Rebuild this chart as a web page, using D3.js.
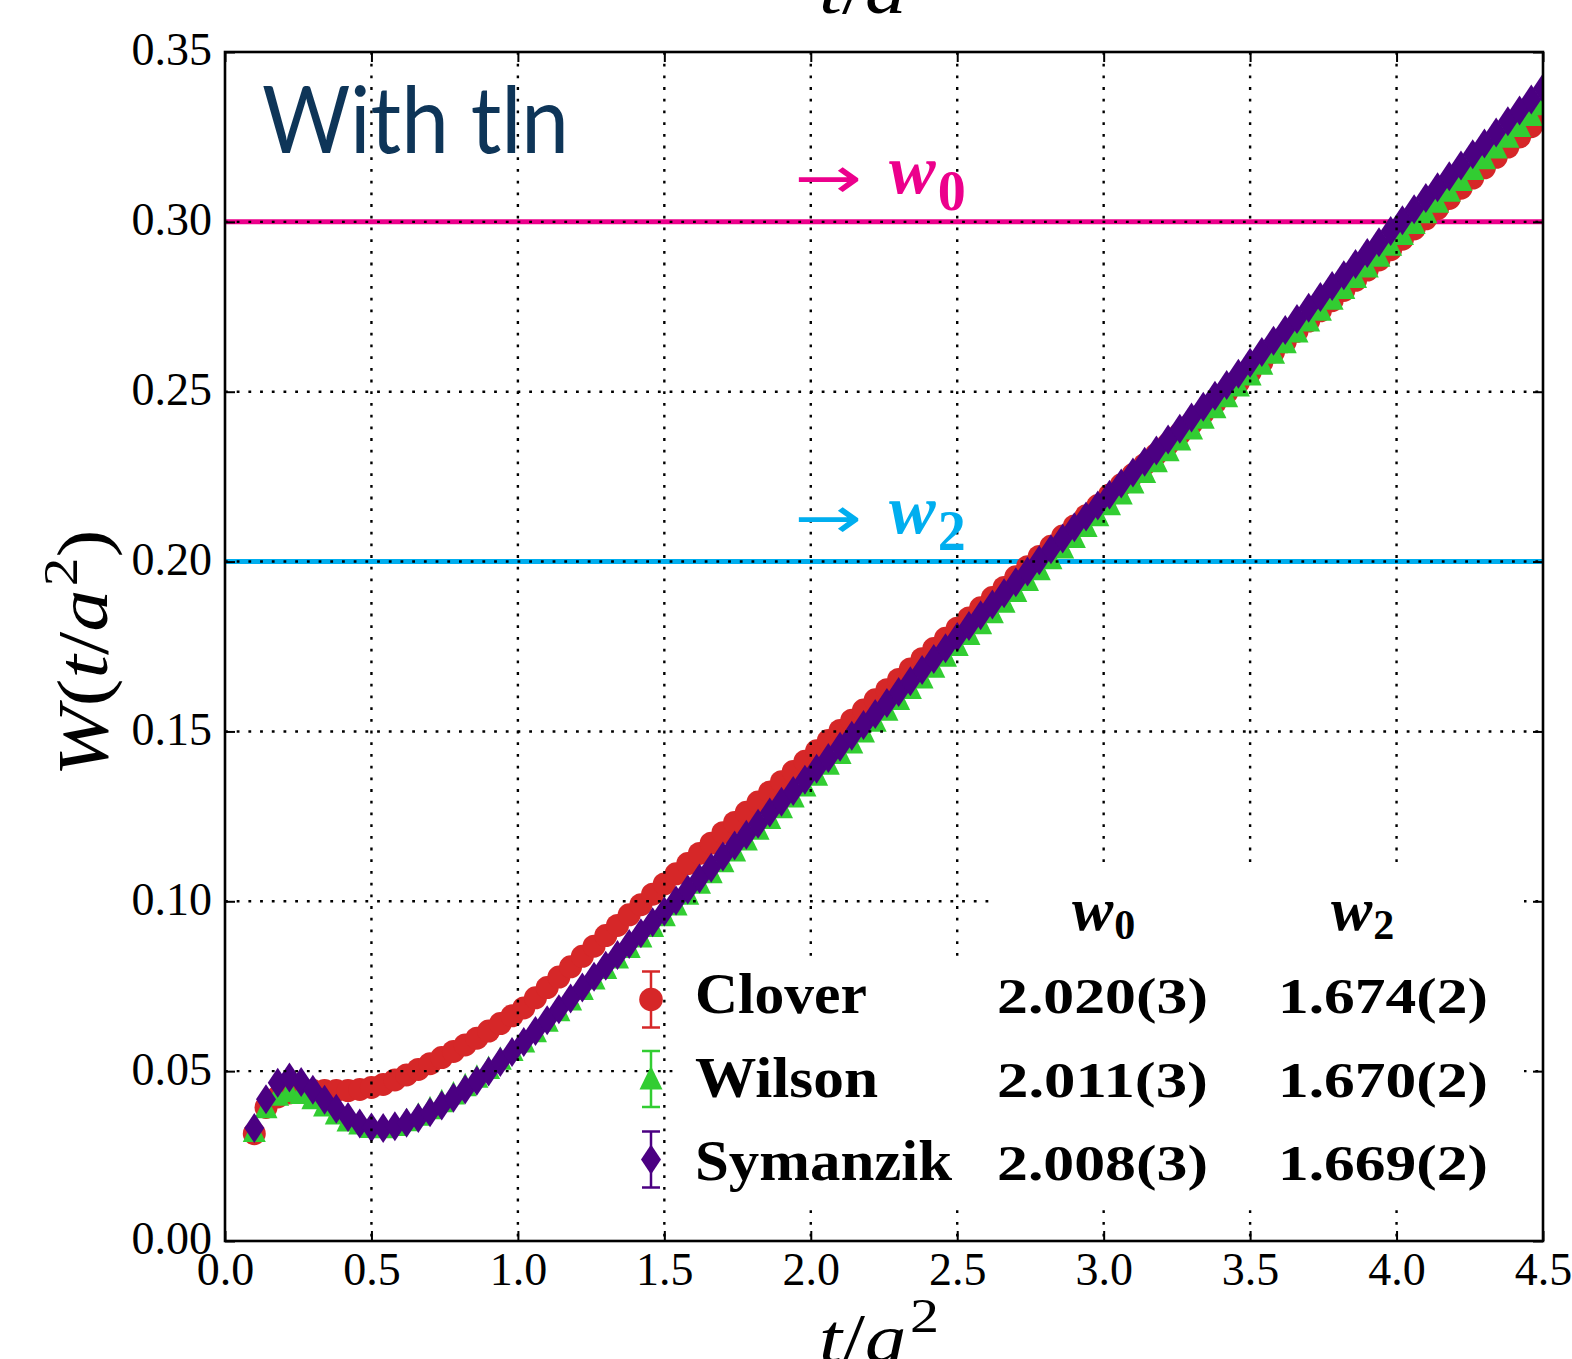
<!DOCTYPE html>
<html>
<head>
<meta charset="utf-8">
<script src="https://cdn.jsdelivr.net/npm/d3@7"></script>
<style>
  html, body { margin: 0; padding: 0; background: #fff; }
  svg { display: block; }
</style>
</head>
<body>
<div id="chart"></div>
<script>
// flow time t/a^2 (every 4th flow step)
const tFlow = [
  0.10, 0.14, 0.18, 0.22, 0.26, 0.30, 0.34, 0.38, 0.42, 0.46, 0.50, 0.54, 0.58, 0.62, 0.66, 0.70, 0.74, 0.78, 0.82, 0.86, 0.90, 0.94, 0.98,
  1.02, 1.06, 1.10, 1.14, 1.18, 1.22, 1.26, 1.30, 1.34, 1.38, 1.42, 1.46,
  1.50, 1.54, 1.58, 1.62, 1.66, 1.70, 1.74, 1.78, 1.82, 1.86, 1.90, 1.94, 1.98, 2.02, 2.06, 2.10, 2.14, 2.18, 2.22, 2.26,
  2.30, 2.34, 2.38, 2.42, 2.46, 2.50, 2.54, 2.58, 2.62, 2.66, 2.70, 2.74, 2.78, 2.82, 2.86, 2.90, 2.94, 2.98, 3.02, 3.06,
  3.10, 3.14, 3.18, 3.22, 3.26, 3.30, 3.34, 3.38, 3.42, 3.46, 3.50, 3.54, 3.58, 3.62, 3.66, 3.70, 3.74, 3.78, 3.82, 3.86,
  3.90, 3.94, 3.98, 4.02, 4.06, 4.10, 4.14, 4.18, 4.22, 4.26, 4.30, 4.34, 4.38, 4.42, 4.46, 4.50
];

const clover = [
  0.0316, 0.0393, 0.0424, 0.0436, 0.0441, 0.0443, 0.0443, 0.0443, 0.0443, 0.0446, 0.0452, 0.0461, 0.0474, 0.0489, 0.0505, 0.0522, 0.0540, 0.0558, 0.0577, 0.0597, 0.0618, 0.0640, 0.0663,
  0.0686, 0.0716, 0.0746, 0.0777, 0.0807, 0.0838, 0.0868, 0.0899, 0.0929, 0.0960, 0.0990, 0.1021,
  0.1051, 0.1081, 0.1111, 0.1141, 0.1171, 0.1202, 0.1232, 0.1262, 0.1292, 0.1322, 0.1352, 0.1382, 0.1412, 0.1443, 0.1473, 0.1503, 0.1533, 0.1563, 0.1593, 0.1623,
  0.1653, 0.1684, 0.1714, 0.1744, 0.1774, 0.1804, 0.1834, 0.1864, 0.1894, 0.1924, 0.1955, 0.1985, 0.2015, 0.2045, 0.2075, 0.2105, 0.2135, 0.2165, 0.2196, 0.2226,
  0.2256, 0.2286, 0.2316, 0.2346, 0.2376, 0.2406, 0.2437, 0.2467, 0.2497, 0.2527, 0.2557, 0.2587, 0.2617, 0.2647, 0.2678, 0.2708, 0.2738, 0.2768, 0.2798, 0.2828,
  0.2858, 0.2888, 0.2918, 0.2949, 0.2979, 0.3009, 0.3039, 0.3069, 0.3099, 0.3129, 0.3159, 0.3190, 0.3220, 0.3250, 0.3280, 0.3310
];

const wilson = [
  0.0325, 0.0395, 0.0432, 0.0443, 0.0437, 0.0422, 0.0400, 0.0377, 0.0356, 0.0347, 0.0337, 0.0336, 0.0343, 0.0357, 0.0373, 0.0392, 0.0413, 0.0436, 0.0460, 0.0485, 0.0511, 0.0538, 0.0564,
  0.0589, 0.0619, 0.0650, 0.0681, 0.0712, 0.0743, 0.0774, 0.0805, 0.0836, 0.0867, 0.0898, 0.0929,
  0.0960, 0.0992, 0.1024, 0.1056, 0.1087, 0.1119, 0.1151, 0.1183, 0.1215, 0.1247, 0.1278, 0.1310, 0.1342, 0.1374, 0.1406, 0.1438, 0.1469, 0.1501, 0.1533, 0.1565,
  0.1597, 0.1629, 0.1660, 0.1692, 0.1724, 0.1756, 0.1788, 0.1820, 0.1852, 0.1883, 0.1915, 0.1947, 0.1979, 0.2011, 0.2043, 0.2074, 0.2106, 0.2138, 0.2170, 0.2202,
  0.2234, 0.2265, 0.2297, 0.2329, 0.2361, 0.2393, 0.2425, 0.2456, 0.2488, 0.2520, 0.2552, 0.2584, 0.2616, 0.2647, 0.2679, 0.2711, 0.2743, 0.2775, 0.2807, 0.2839,
  0.2870, 0.2902, 0.2934, 0.2966, 0.2998, 0.3030, 0.3061, 0.3093, 0.3125, 0.3157, 0.3189, 0.3220, 0.3252, 0.3284, 0.3316, 0.3348
];

const symanzik = [
  0.0333, 0.0417, 0.0466, 0.0481, 0.0468, 0.0445, 0.0416, 0.0389, 0.0365, 0.0346, 0.0334, 0.0333, 0.0338, 0.0348, 0.0362, 0.0379, 0.0399, 0.0422, 0.0446, 0.0472, 0.0499, 0.0527, 0.0556,
  0.0586, 0.0618, 0.0650, 0.0682, 0.0714, 0.0746, 0.0778, 0.0810, 0.0842, 0.0874, 0.0906, 0.0938,
  0.0970, 0.1002, 0.1035, 0.1067, 0.1099, 0.1132, 0.1164, 0.1196, 0.1228, 0.1261, 0.1293, 0.1325, 0.1358, 0.1390, 0.1422, 0.1455, 0.1487, 0.1519, 0.1551, 0.1584,
  0.1616, 0.1648, 0.1681, 0.1713, 0.1745, 0.1778, 0.1810, 0.1842, 0.1874, 0.1907, 0.1939, 0.1971, 0.2004, 0.2036, 0.2068, 0.2101, 0.2133, 0.2165, 0.2197, 0.2230,
  0.2262, 0.2294, 0.2327, 0.2359, 0.2391, 0.2424, 0.2456, 0.2488, 0.2520, 0.2553, 0.2585, 0.2617, 0.2650, 0.2682, 0.2714, 0.2747, 0.2779, 0.2811, 0.2843, 0.2876,
  0.2908, 0.2940, 0.2973, 0.3005, 0.3037, 0.3070, 0.3102, 0.3134, 0.3166, 0.3199, 0.3231, 0.3263, 0.3296, 0.3328, 0.3360, 0.3393
];

const xTicks = [0, 0.5, 1.0, 1.5, 2.0, 2.5, 3.0, 3.5, 4.0, 4.5];
const yTicks = [0, 0.05, 0.10, 0.15, 0.20, 0.25, 0.30, 0.35];

const refValues = [0.30, 0.20];       // W(t) = 0.3 -> w0, W(t) = 0.2 -> w2
const refSubs = ["0", "2"];

const legendNames = ["Clover", "Wilson", "Symanzik"];
const w0Vals = ["2.020(3)", "2.011(3)", "2.008(3)"];
const w2Vals = ["1.674(2)", "1.670(2)", "1.669(2)"];

const colors = ["#d62728", "#32cd32", "#4b0082"];
const refColors = ["#ec008c", "#00aeef"];
const serif = "'Liberation Serif', 'Times New Roman', serif";

const W = 1572, H = 1359;
const margin = { top: 52, right: 29, bottom: 118, left: 225 };
const width = W - margin.left - margin.right;
const height = H - margin.top - margin.bottom;

const svg = d3.select("#chart").append("svg").attr("width", W).attr("height", H);
const g = svg.append("g").attr("transform", `translate(${margin.left},${margin.top})`);

const x = d3.scaleLinear().domain([0, 4.5]).range([0, width]);
const y = d3.scaleLinear().domain([0, 0.35]).range([height, 0]);

svg.append("defs").append("clipPath").attr("id", "plotClip")
  .append("rect").attr("width", width).attr("height", height);
const plot = g.append("g").attr("clip-path", "url(#plotClip)");

// marker shapes (matplotlib o, ^, d)
const triPath = (cx, cy) => `M${cx},${cy - 12}L${cx + 11.5},${cy + 11.5}L${cx - 11.5},${cy + 11.5}Z`;
const diaPath = (cx, cy) => `M${cx},${cy - 15}L${cx + 10},${cy}L${cx},${cy + 15}L${cx - 10},${cy}Z`;

// w0 / w2 reference lines
plot.selectAll("line.ref").data(refValues).enter().append("line")
  .attr("x1", 0).attr("x2", width)
  .attr("y1", d => y(d)).attr("y2", d => y(d))
  .attr("stroke", (d, i) => refColors[i]).attr("stroke-width", 5);

const pts = vals => tFlow.map((t, i) => ({ t, v: vals[i] }));

plot.append("g").selectAll("circle").data(pts(clover)).enter().append("circle")
  .attr("cx", d => x(d.t)).attr("cy", d => y(d.v)).attr("r", 11.5)
  .attr("fill", colors[0]);

plot.append("g").selectAll("path").data(pts(wilson)).enter().append("path")
  .attr("d", d => triPath(x(d.t), y(d.v)))
  .attr("fill", colors[1]);

plot.append("g").selectAll("path").data(pts(symanzik)).enter().append("path")
  .attr("d", d => diaPath(x(d.t), y(d.v)))
  .attr("fill", colors[2]);

// dotted grid, drawn over the data like classic matplotlib
const grid = g.append("g").attr("stroke", "#000").attr("stroke-width", 2.4)
  .attr("stroke-dasharray", "2.8 8.9");
grid.selectAll("line.v").data(xTicks.slice(1, -1)).enter().append("line")
  .attr("x1", d => x(d)).attr("x2", d => x(d)).attr("y1", 0).attr("y2", height);
grid.selectAll("line.h").data(yTicks.slice(1, -1)).enter().append("line")
  .attr("x1", 0).attr("x2", width).attr("y1", d => y(d)).attr("y2", d => y(d));

// axes with inward ticks on all four sides
function styleAxis(sel) {
  sel.select(".domain").remove();
  sel.attr("font-size", 46).attr("font-family", serif);
  sel.selectAll(".tick line").attr("stroke", "#000").attr("stroke-width", 2);
  sel.selectAll(".tick text").attr("fill", "#000");
}
g.append("g").attr("transform", `translate(0,${height})`)
  .call(d3.axisBottom(x).tickValues(xTicks).tickFormat(d3.format(".1f"))
    .tickSize(-10).tickSizeOuter(0).tickPadding(11))
  .call(styleAxis);
g.append("g")
  .call(d3.axisLeft(y).tickValues(yTicks).tickFormat(d3.format(".2f"))
    .tickSize(-10).tickSizeOuter(0).tickPadding(13))
  .call(styleAxis)
  .selectAll(".tick text").attr("dy", "0.28em");
g.append("g")
  .call(d3.axisTop(x).tickValues(xTicks).tickFormat("").tickSize(-10).tickSizeOuter(0))
  .call(styleAxis);
g.append("g").attr("transform", `translate(${width},0)`)
  .call(d3.axisRight(y).tickValues(yTicks).tickFormat("").tickSize(-10).tickSizeOuter(0))
  .call(styleAxis);

g.append("rect").attr("width", width).attr("height", height)
  .attr("fill", "none").attr("stroke", "#000").attr("stroke-width", 2.6);

// annotations "-> w0", "-> w2"
refValues.forEach((v, i) => {
  const yy = margin.top + y(v);
  svg.append("text")
    .attr("x", 794).attr("y", yy - 24)
    .attr("font-family", "'DejaVu Sans', sans-serif").attr("font-size", 58)
    .attr("textLength", 68).attr("lengthAdjust", "spacingAndGlyphs")
    .attr("fill", refColors[i]).text("\u2192");
  const t = svg.append("text").attr("x", 889).attr("y", yy - 29)
    .attr("font-family", serif).attr("font-weight", "bold").attr("fill", refColors[i]);
  t.append("tspan").attr("font-style", "italic").attr("font-size", 70).text("w");
  t.append("tspan").attr("font-size", 56).attr("dy", 17).attr("dx", 2).text(refSubs[i]);
});

// legend with results table
const rowTop = [957, 1042, 1125];
const rowH = [81, 80, 78];
const rowBase = [1013, 1097, 1180];
const rowMid = [999.5, 1079, 1159.5];
const legX = 651;

svg.append("rect").attr("x", 993).attr("y", 863).attr("width", 531).attr("height", 94).attr("fill", "#fff");
legendNames.forEach((name, i) => {
  svg.append("rect").attr("x", 677).attr("y", rowTop[i]).attr("width", 847).attr("height", rowH[i]).attr("fill", "#fff");
});

const headCols = [1072, 1331];
refSubs.forEach((s, j) => {
  const t = svg.append("text").attr("x", headCols[j]).attr("y", 930)
    .attr("font-family", serif).attr("font-weight", "bold").attr("fill", "#000");
  t.append("tspan").attr("font-style", "italic").attr("font-size", 62).text("w");
  t.append("tspan").attr("font-size", 42).attr("dy", 9).attr("dx", 1).text(s);
});

const nameLens = [172, 183, 257];
legendNames.forEach((name, i) => {
  const c = colors[i], m = rowMid[i];
  const leg = svg.append("g");
  leg.append("line").attr("x1", legX).attr("x2", legX).attr("y1", m - 28).attr("y2", m + 28)
    .attr("stroke", c).attr("stroke-width", 2.5);
  [m - 28, m + 28].forEach(cy => leg.append("line")
    .attr("x1", legX - 9).attr("x2", legX + 9).attr("y1", cy).attr("y2", cy)
    .attr("stroke", c).attr("stroke-width", 2.5));
  if (i === 0) leg.append("circle").attr("cx", legX).attr("cy", m).attr("r", 11.8).attr("fill", c);
  if (i === 1) leg.append("path").attr("d", triPath(legX, m - 1)).attr("fill", c);
  if (i === 2) leg.append("path").attr("d", diaPath(legX, m)).attr("fill", c);

  svg.append("text").attr("x", 695).attr("y", rowBase[i])
    .attr("font-family", serif).attr("font-weight", "bold").attr("font-size", 56)
    .attr("textLength", nameLens[i]).attr("lengthAdjust", "spacingAndGlyphs")
    .attr("fill", "#000").text(name);
  svg.append("text").attr("x", 997).attr("y", rowBase[i])
    .attr("font-family", serif).attr("font-weight", "bold").attr("font-size", 50)
    .attr("textLength", 211).attr("lengthAdjust", "spacingAndGlyphs")
    .attr("fill", "#000").text(w0Vals[i]);
  svg.append("text").attr("x", 1278).attr("y", rowBase[i])
    .attr("font-family", serif).attr("font-weight", "bold").attr("font-size", 50)
    .attr("textLength", 210).attr("lengthAdjust", "spacingAndGlyphs")
    .attr("fill", "#000").text(w2Vals[i]);
});

// "With tln"
svg.append("text").attr("x", 262).attr("y", 153)
  .attr("font-family", "Lato, 'Open Sans', sans-serif").attr("font-size", 94)
  .attr("textLength", 307).attr("lengthAdjust", "spacingAndGlyphs")
  .attr("fill", "#0e3558").text("With tln");

// axis labels
function tOverA2(sel) {
  sel.append("tspan").attr("font-style", "italic").text("t");
  sel.append("tspan").text("/");
  sel.append("tspan").attr("font-style", "italic").text("a");
  sel.append("tspan").attr("font-size", 49).attr("dy", -30).attr("dx", 3).text("2");
}
[1362, 13].forEach(by => {
  const xl = svg.append("text").attr("x", 819).attr("y", by)
    .attr("font-family", serif).attr("font-size", 70).attr("fill", "#000")
    .attr("textLength", 120).attr("lengthAdjust", "spacingAndGlyphs");
  tOverA2(xl);
});

const yl = svg.append("text")
  .attr("transform", "translate(107,653) rotate(-90)")
  .attr("text-anchor", "middle")
  .attr("font-family", serif).attr("font-size", 72).attr("fill", "#000")
  .attr("textLength", 247).attr("lengthAdjust", "spacingAndGlyphs");
yl.append("tspan").attr("font-style", "italic").text("W");
yl.append("tspan").text("(");
tOverA2(yl);
yl.append("tspan").attr("dy", 30).text(")");
</script>
</body>
</html>
